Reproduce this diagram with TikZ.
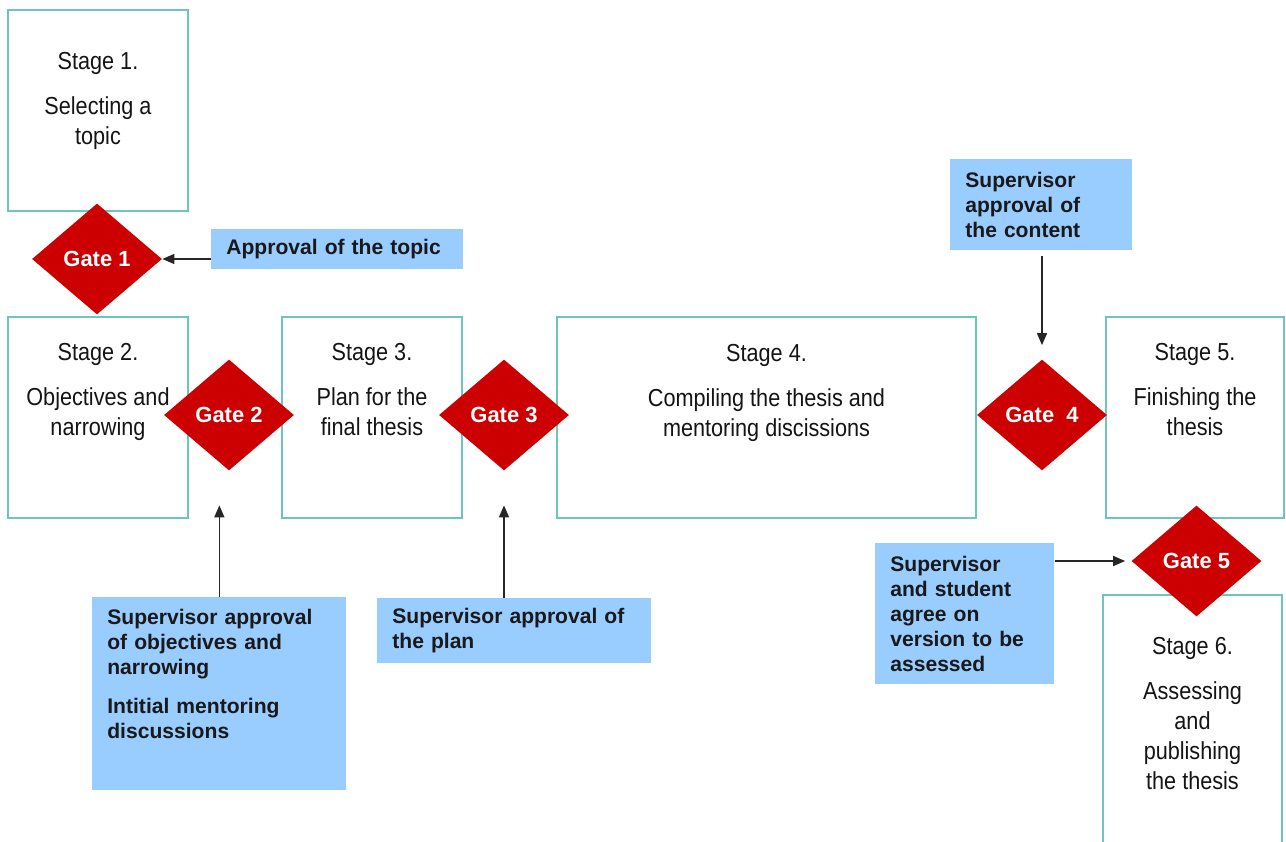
\documentclass[tikz,border=0pt]{standalone}
\usepackage{fontspec}
\setmainfont{Liberation Sans}
\newfontfamily\narrowfont[FakeStretch=0.88]{Liberation Sans}
\usetikzlibrary{shapes.geometric,arrows.meta}
\definecolor{stageline}{HTML}{6EC5C0}
\definecolor{notefill}{HTML}{99CCFF}
\definecolor{gatered}{HTML}{CC0000}

\begin{document}
\begin{tikzpicture}[
  stagebox/.style={draw=stageline, line width=1.2pt, minimum width=3.6cm, minimum height=4.02cm, inner sep=0pt},
  stagetext/.style={anchor=north, inner sep=0pt, align=center, text=black!92, font=\narrowfont\fontsize{14}{17}\selectfont},
  gate/.style={diamond, fill=gatered, minimum width=2.6cm, minimum height=2.22cm, inner sep=0pt, text=white, font=\bfseries\fontsize{12.5}{15}\selectfont},
  note/.style={fill=notefill, anchor=north west, align=left, inner xsep=0.3cm, inner ysep=0.2cm, text=black!90, font=\bfseries\fontsize{12}{14.2}\selectfont},
  link/.style={-{Triangle[length=2.4mm,width=2mm]}, line width=0.8pt, black!85}
]
\useasboundingbox (0,0) rectangle (25.72,16.82);
\clip (0,0) rectangle (25.72,16.82);

\node[stagebox, label={[stagetext,yshift=-0.86cm]north:{Stage 1.\\[0.3cm]Selecting a\\topic}}] (s1) at (1.96,14.61) {};
\node[stagebox, label={[stagetext,yshift=-0.54cm]north:{Stage 2.\\[0.3cm]Objectives and\\narrowing}}] (s2) at (1.96,8.47) {};
\node[stagebox, label={[stagetext,yshift=-0.54cm]north:{Stage 3.\\[0.3cm]Plan for the\\final thesis}}] (s3) at (7.44,8.47) {};
\node[stagebox, minimum width=8.38cm, label={[stagetext,yshift=-0.56cm]north:{Stage 4.\\[0.3cm]Compiling the thesis and\\mentoring discissions}}] (s4) at (15.33,8.47) {};
\node[stagebox, minimum width=3.56cm, label={[stagetext,yshift=-0.54cm]north:{Stage 5.\\[0.3cm]Finishing the\\thesis}}] (s5) at (23.9,8.47) {};
\node[stagebox, anchor=north, minimum width=3.58cm, minimum height=5.2cm, label={[stagetext,yshift=-0.86cm]north:{Stage 6.\\[0.3cm]Assessing\\and\\publishing\\the thesis}}] (s6) at (23.85,4.94) {};

\node[gate] (g1) at (1.94,11.64) {Gate 1};
\node[gate] (g2) at (4.58,8.52) {Gate 2};
\node[gate] (g3) at (10.08,8.52) {Gate 3};
\node[gate] (g4) at (20.84,8.52) {Gate\ \ 4};
\node[gate] (g5) at (23.93,5.6) {Gate 5};

\node[note, text width=4.44cm, minimum height=0.78cm] (topic) at (4.22,12.24) {Approval of the topic};
\node[note, text width=3.04cm, minimum height=1.82cm] (content) at (19.0,13.64) {Supervisor\\approval of\\the content};
\node[note, text width=4.48cm, inner ysep=0.23cm, text depth=3.09cm] (sup2) at (1.84,4.88) {Supervisor approval\\of objectives and\\narrowing\\[0.3cm]Intitial mentoring\\discussions};
\node[note, text width=4.88cm, minimum height=1.3cm] (plan) at (7.54,4.86) {Supervisor approval of\\the plan};
\node[note, text width=2.98cm, minimum height=2.82cm] (agree) at (17.5,5.96) {Supervisor\\and student\\agree on\\version to be\\assessed};

\draw[link] (topic.west |- g1) -- (g1.east);
\draw[link, shorten >=0.69cm] (sup2.north) -- (sup2.north |- g2.south);
\draw[link, shorten >=0.69cm] (plan.north -| g3) -- (g3.south);
\draw[link, shorten <=0.1cm, shorten >=0.28cm] (content.south -| g4) -- (g4.north);
\draw[link, shorten >=0.12cm] (agree.east |- g5) -- (g5.west);
\end{tikzpicture}
\end{document}
